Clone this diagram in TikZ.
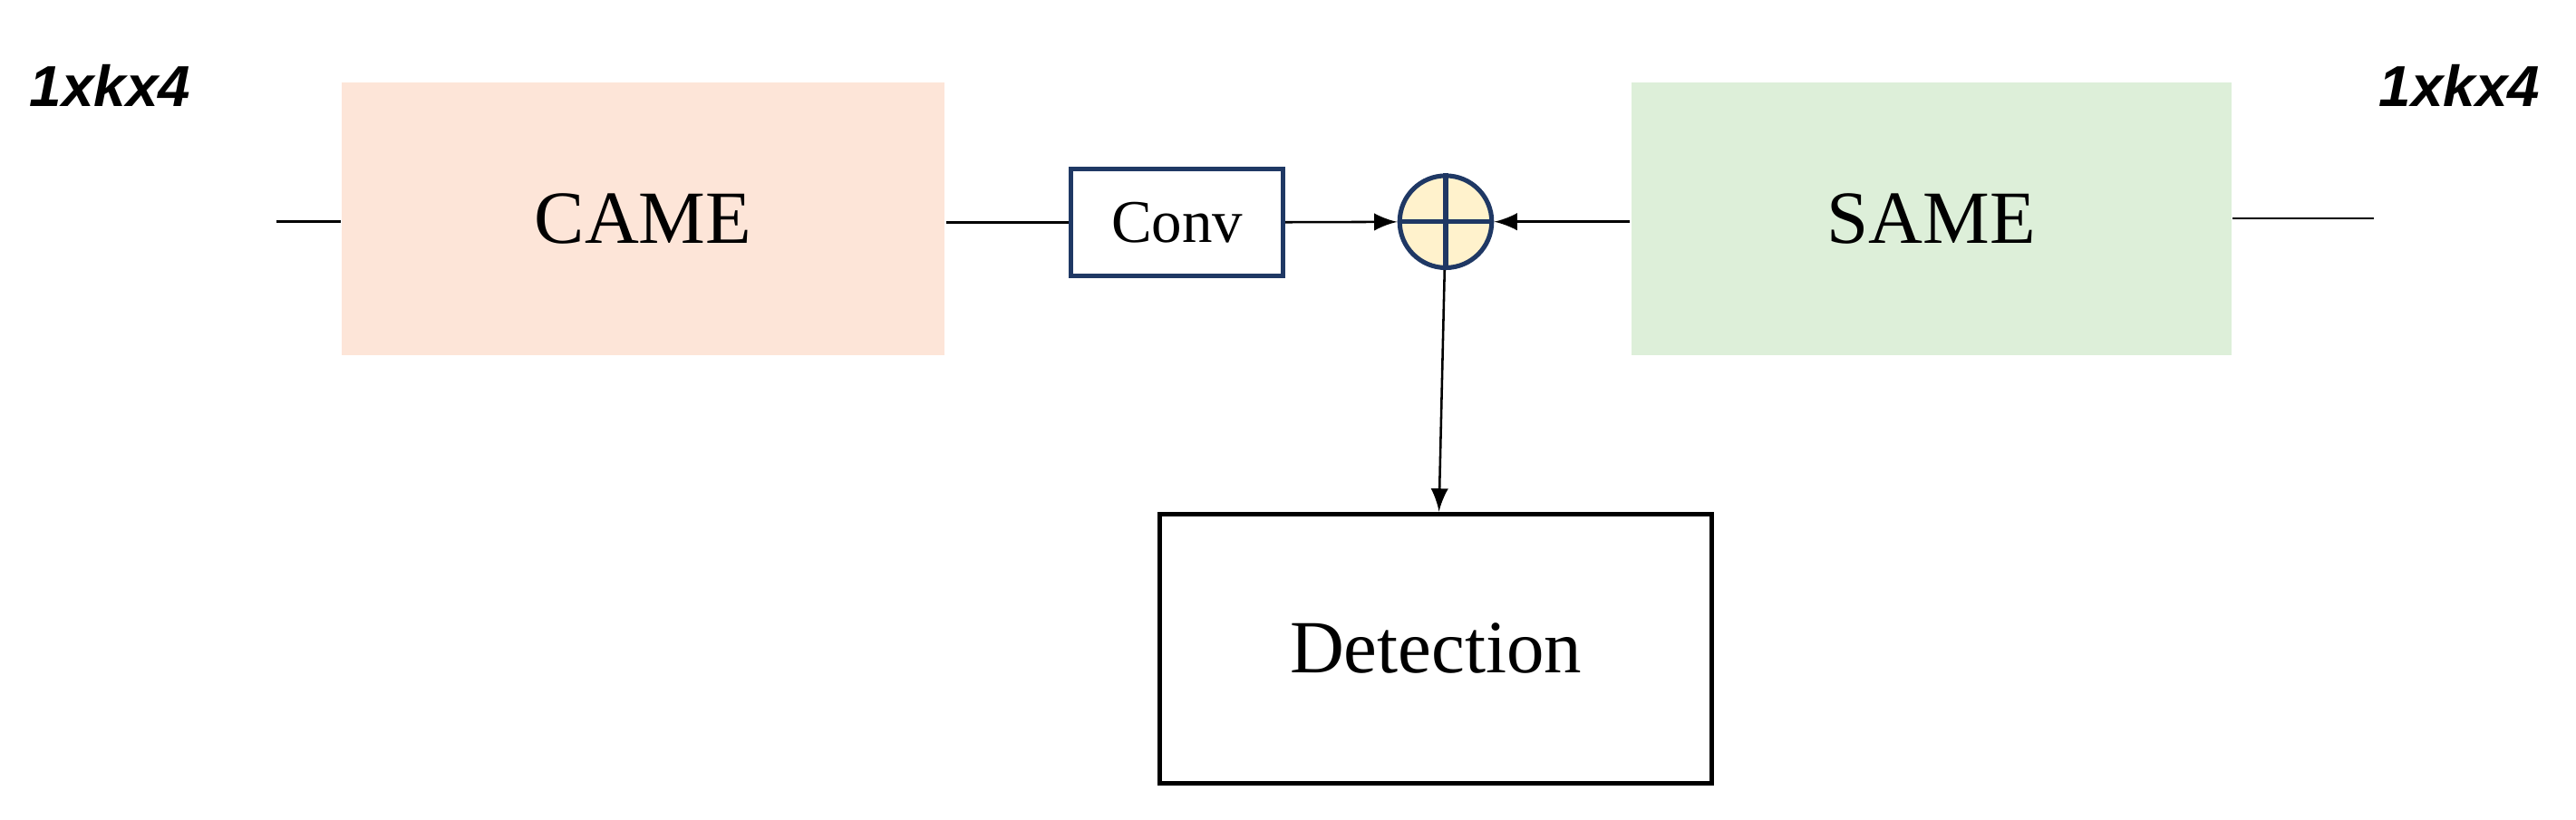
\documentclass[tikz,border=0pt]{standalone}
\usepackage{fontspec}
\setmainfont{Liberation Serif}
\newfontfamily\dimfont{Liberation Sans}
\usepackage{xcolor}
\usetikzlibrary{positioning}
\definecolor{cameFill}{HTML}{FDE5D8}
\definecolor{sameFill}{HTML}{DDEFD9}
\definecolor{sumFill}{HTML}{FFF2CC}
\definecolor{navy}{HTML}{1F3864}

\begin{document}
\begin{tikzpicture}[x=0.01cm,y=-0.01cm,>=latex,
  block/.style={minimum width=3.67cm,minimum height=1.66cm,font=\fontsize{13}{15}\selectfont},
  dim/.style={font=\dimfont\bfseries\itshape\fontsize{10}{12}\selectfont}]
\useasboundingbox (0,0) rectangle (1568,499);
\node[block,fill=cameFill] (CAME) at (391.5,133) {CAME};
\node[block,fill=sameFill,minimum width=3.65cm] (SAME) at (1175.5,133) {SAME};
\node[draw=navy,line width=0.8pt,minimum width=1.29cm,minimum height=0.65cm,font=\fontsize{10.5}{12}\selectfont] (Conv) at (716.5,135.5) {Conv};
\node[circle,draw=navy,line width=0.8pt,fill=sumFill,minimum size=0.56cm,inner sep=0pt] (Sum) at (880,135) {};
\draw[navy,line width=0.8pt] (Sum.north) -- (Sum.south) (Sum.west) -- (Sum.east);
\node[draw,line width=0.8pt,minimum width=3.36cm,minimum height=1.64cm,font=\fontsize{13}{15}\selectfont] (Det) at (874,395) {Detection};
\node[dim] (dimL) at (67,52) {1xkx4};
\node[dim] (dimR) at (1497,52) {1xkx4};
\coordinate (inL) at (168,135);
\coordinate (outR) at (1445,133);
\draw (inL) -- (CAME.west |- inL);
\draw (CAME.east |- Conv) -- (Conv.west);
\draw[->] (Conv) -- (Sum);
\draw[->] (SAME.west |- Sum) -- (Sum);
\draw (SAME.east |- outR) -- (outR);
\draw[->] (Sum) -- (Det);
\end{tikzpicture}
\end{document}
